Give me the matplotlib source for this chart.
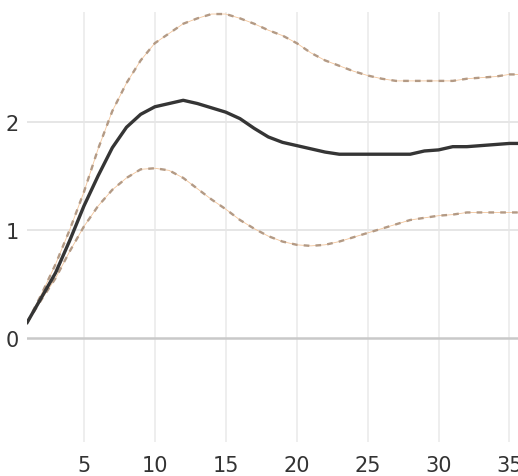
import numpy as np
import matplotlib.pyplot as plt

# horizons and response values
x = np.arange(1, 37)
median = [0.14, 0.37, 0.60, 0.90, 1.22, 1.50, 1.76, 1.95, 2.07, 2.14,
          2.17, 2.20, 2.17, 2.13, 2.09, 2.03, 1.94, 1.86, 1.81, 1.78,
          1.75, 1.72, 1.70, 1.70, 1.70, 1.70, 1.70, 1.70, 1.73, 1.74,
          1.77, 1.77, 1.78, 1.79, 1.80, 1.80]
upper = [0.14, 0.40, 0.68, 1.00, 1.35, 1.75, 2.10, 2.36, 2.57, 2.73,
         2.82, 2.91, 2.96, 3.00, 3.00, 2.96, 2.91, 2.85, 2.80, 2.73,
         2.64, 2.57, 2.52, 2.47, 2.43, 2.40, 2.38, 2.38, 2.38, 2.38,
         2.38, 2.40, 2.41, 2.42, 2.44, 2.44]
lower = [0.14, 0.35, 0.55, 0.80, 1.03, 1.22, 1.37, 1.48, 1.56, 1.57,
         1.55, 1.48, 1.38, 1.28, 1.19, 1.09, 1.01, 0.94, 0.89, 0.86,
         0.85, 0.86, 0.89, 0.93, 0.97, 1.01, 1.05, 1.09, 1.11, 1.13,
         1.14, 1.16, 1.16, 1.16, 1.16, 1.16]
xticks = [5, 10, 15, 20, 25, 30, 35]
yticks = [0, 1, 2]

plt.rcParams['font.family'] = ['DejaVu Sans']

fig = plt.figure(figsize=(5.18, 4.77), dpi=100)
ax = fig.add_axes([0.0525, 0.071, 0.9475, 0.902])

for xt in xticks:
    ax.axvline(xt, color='#ebebeb', lw=1.2, zorder=0)
for yt in [1, 2]:
    ax.axhline(yt, color='#e6e6e6', lw=1.4, zorder=0)
ax.axhline(0, color='#c9c9c9', lw=1.8, zorder=1)

for band in (upper, lower):
    ax.plot(x, band, color='#f2c49a', lw=0.6, zorder=2)
    ax.plot(x, band, color='#b39a85', lw=1.7, dashes=(2.4, 2.6), zorder=3)
ax.plot(x, median, color='#353535', lw=2.4, zorder=4)

ax.set_xlim(1, 35.6)
ax.set_ylim(-0.97, 3.02)
ax.set_xticks(xticks)
ax.set_yticks(yticks)
ax.tick_params(length=0, labelsize=15, colors='#333333')
ax.tick_params(axis='x', pad=9)
ax.tick_params(axis='y', pad=6)
for s in ax.spines.values():
    s.set_visible(False)

fig.savefig('out.png', dpi=100)
